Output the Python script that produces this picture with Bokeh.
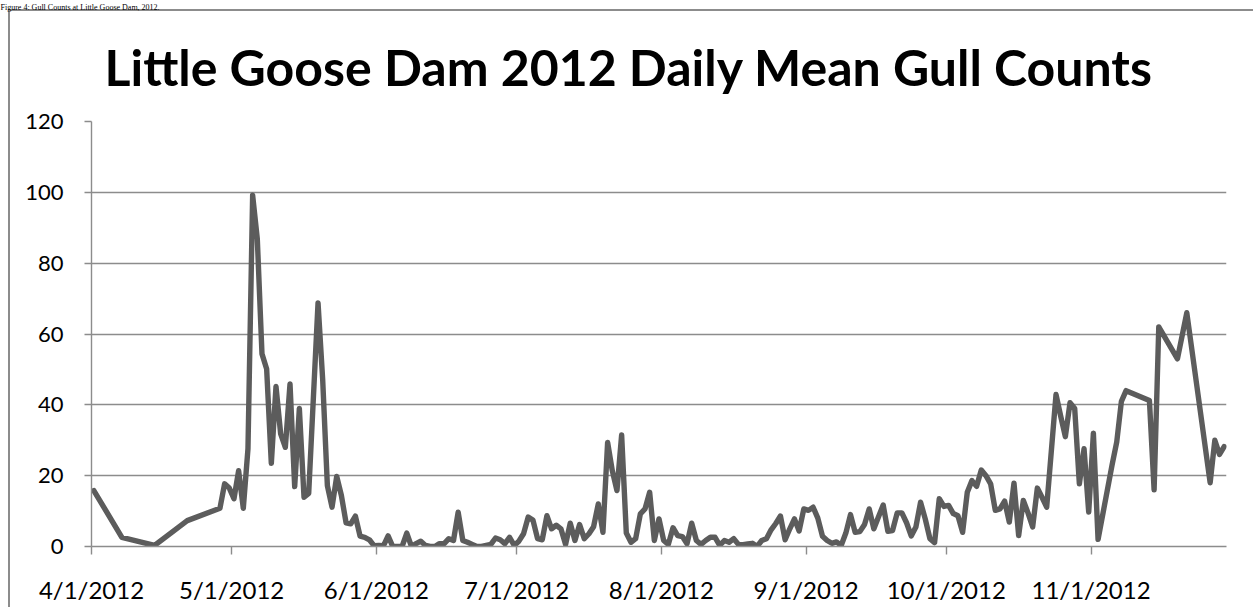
import pandas as pd
from bokeh.plotting import figure
from bokeh.models import (Range1d, FixedTicker, CustomJSTickFormatter, Title,
                          ColumnDataSource)
from bokeh.embed import file_html
from bokeh.resources import INLINE

# ---------------- data ----------------
apr_days = [1, 7, 14, 21, 28, 29, 30]
apr_counts = [15.8, 2.6, 0.3, 7.3, 10.8, 17.7, 16.5]

may_days = list(range(1, 18)) + list(range(19, 32))
may_counts = [13.5, 21.4, 10.8, 27.6, 99.2, 86.8, 54.4, 50.1, 23.5, 45.2,
              31.8, 28.0, 45.9, 16.9, 39.0, 13.9, 15.0, 68.8, 47.0, 17.2,
              11.1, 19.8, 14.4, 6.7, 6.4, 8.6, 2.9, 2.6, 1.9, 0.2]

jun_days = list(range(1, 31))
jun_counts = [0.3, 0.2, 3.0, 0.0, 0.0, 0.0, 3.8, 0.0, 0.8, 1.5,
              0.3, 0.0, 0.0, 0.8, 0.8, 2.2, 1.7, 9.7, 1.7, 1.2,
              0.6, 0.0, 0.0, 0.3, 0.6, 2.4, 1.9, 0.8, 2.6, 0.3]

jul_days = list(range(1, 32))
jul_counts = [1.5, 3.6, 8.3, 7.5, 2.2, 1.9, 8.7, 5.0, 6.0, 5.0,
              0.6, 6.6, 1.7, 6.2, 2.2, 3.6, 5.6, 12.0, 4.0, 29.4,
              21.4, 15.8, 31.5, 3.8, 1.2, 2.2, 9.2, 10.6, 15.3, 1.7, 7.8]

aug_days = list(range(1, 32))
aug_counts = [1.7, 0.6, 5.3, 3.1, 2.8, 0.8, 6.6, 1.7, 0.6, 1.7,
              2.6, 2.6, 0.3, 1.7, 1.2, 2.2, 0.6, 0.5, 0.7, 0.9,
              0.0, 1.7, 2.2, 4.7, 6.5, 8.6, 1.9, 5.0, 7.8, 4.4, 10.6]

sep_days = list(range(1, 31))
sep_counts = [10.2, 11.1, 8.0, 2.9, 1.7, 0.9, 1.3, 0.3, 3.8, 9.0,
              4.0, 4.2, 6.2, 10.6, 5.0, 8.4, 11.7, 4.3, 4.5, 9.5,
              9.5, 6.7, 3.0, 5.5, 12.5, 7.8, 2.2, 1.1, 13.5, 11.3]

oct_days = list(range(1, 23)) + list(range(24, 32))
oct_counts = [11.6, 9.3, 8.7, 4.0, 15.3, 18.6, 17.0, 21.6, 20.0, 17.7,
              10.2, 10.6, 12.8, 6.9, 17.9, 3.1, 13.0, 9.5, 5.5, 16.5,
              13.9, 11.1, 42.9, 36.8, 31.0, 40.6, 39.0, 17.7, 27.6, 9.7]

nov_days = [1, 2, 5, 6, 7, 8, 13, 14, 15, 19, 21, 26, 27, 28, 29]
nov_counts = [32.0, 2.0, 23.0, 29.5, 41.0, 44.0, 41.2, 16.0, 62.0, 53.0,
              66.0, 18.0, 30.0, 26.0, 28.2]

y_ticks = [0, 20, 40, 60, 80, 100, 120]
x_tick_dates = ["2012-04-01", "2012-05-01", "2012-06-01", "2012-07-01",
                "2012-08-01", "2012-09-01", "2012-10-01", "2012-11-01"]
x_tick_labels = ["4/1/2012", "5/1/2012", "6/1/2012", "7/1/2012",
                 "8/1/2012", "9/1/2012", "10/1/2012", "11/1/2012"]

title_text = "Little Goose Dam 2012 Daily Mean Gull Counts"
caption_text = "Figure 4: Gull Counts at Little Goose Dam, 2012."

# ---------------- assemble ----------------
months = [(4, apr_days, apr_counts), (5, may_days, may_counts),
          (6, jun_days, jun_counts), (7, jul_days, jul_counts),
          (8, aug_days, aug_counts), (9, sep_days, sep_counts),
          (10, oct_days, oct_counts), (11, nov_days, nov_counts)]
dates, counts = [], []
for m, days, vals in months:
    dates += [pd.Timestamp(2012, m, d) for d in days]
    counts += vals
# Excel date axis: points sit in the middle of each day slot
xs = pd.DatetimeIndex(dates) + pd.Timedelta(hours=12)
src = ColumnDataSource(dict(x=xs, y=counts))

GRID = "#8c8c8c"
FONT = "Lato"

p = figure(width=1253, height=607, x_axis_type="datetime",
           x_range=Range1d(pd.Timestamp("2012-04-01"), pd.Timestamp("2012-11-30")),
           y_range=Range1d(0, 120),
           output_backend="svg", toolbar_location=None,
           min_border_left=91, min_border_right=27,
           min_border_top=121, min_border_bottom=61,
           background_fill_color="white", border_fill_color=None)
p.outline_line_color = None

# outer chart border (left and top edges of the chart box), drawn behind the canvas
p.styles = {
    "background-color": "white",
    "background-image": f"linear-gradient({GRID}, {GRID}), linear-gradient({GRID}, {GRID})",
    "background-size": "2px 100%, 100% 2px",
    "background-position": "8px 9px, 8px 9px",
    "background-repeat": "no-repeat",
}

# titles: the chart title next to the frame, the figure caption outermost
main_title = Title(text=title_text, align="left", offset=13, standoff=46,
                   vertical_align="top",
                   text_font=FONT, text_font_style="bold", text_font_size="50px",
                   text_color="black")
cap_title = Title(text=caption_text, align="left", offset=-91, standoff=0,
                  vertical_align="top",
                  text_font="Liberation Serif", text_font_style="normal",
                  text_font_size="8px", text_color="black")
p.add_layout(main_title, "above")
p.add_layout(cap_title, "above")

p.line("x", "y", source=src, line_color="#5c5c5c", line_width=5.4,
       line_join="round", line_cap="round")

# grid
p.xgrid.grid_line_color = None
p.ygrid.grid_line_color = GRID
p.ygrid.grid_line_width = 1.4
p.ygrid.ticker = FixedTicker(ticks=y_ticks)

# y axis
ya = p.yaxis[0]
ya.ticker = FixedTicker(ticks=y_ticks)
ya.axis_line_color = GRID
ya.axis_line_width = 1.4
ya.major_tick_line_color = GRID
ya.major_tick_line_width = 1.4
ya.major_tick_in = 0
ya.major_tick_out = 7
ya.minor_tick_line_color = None
ya.major_label_standoff = 21
ya.major_label_text_font = FONT
ya.major_label_text_font_size = "22px"
ya.major_label_text_color = "black"

# x axis
tick_ms = [pd.Timestamp(d).value // 10**6 for d in x_tick_dates]
xa = p.xaxis[0]
xa.ticker = FixedTicker(ticks=tick_ms)
xa.formatter = CustomJSTickFormatter(args=dict(tvals=tick_ms, tlabels=x_tick_labels), code="""
    for (let i = 0; i < tvals.length; i++) {
        if (Math.abs(tvals[i] - tick) < 1000) return tlabels[i];
    }
    return "";
""")
xa.axis_line_color = GRID
xa.axis_line_width = 1.4
xa.major_tick_line_color = GRID
xa.major_tick_line_width = 1.4
xa.major_tick_in = 0
xa.major_tick_out = 8
xa.minor_tick_line_color = None
xa.major_label_standoff = 20
xa.major_label_text_font = FONT
xa.major_label_text_font_size = "24px"
xa.major_label_text_color = "black"

open("out.html", "w").write(file_html(p, INLINE))
